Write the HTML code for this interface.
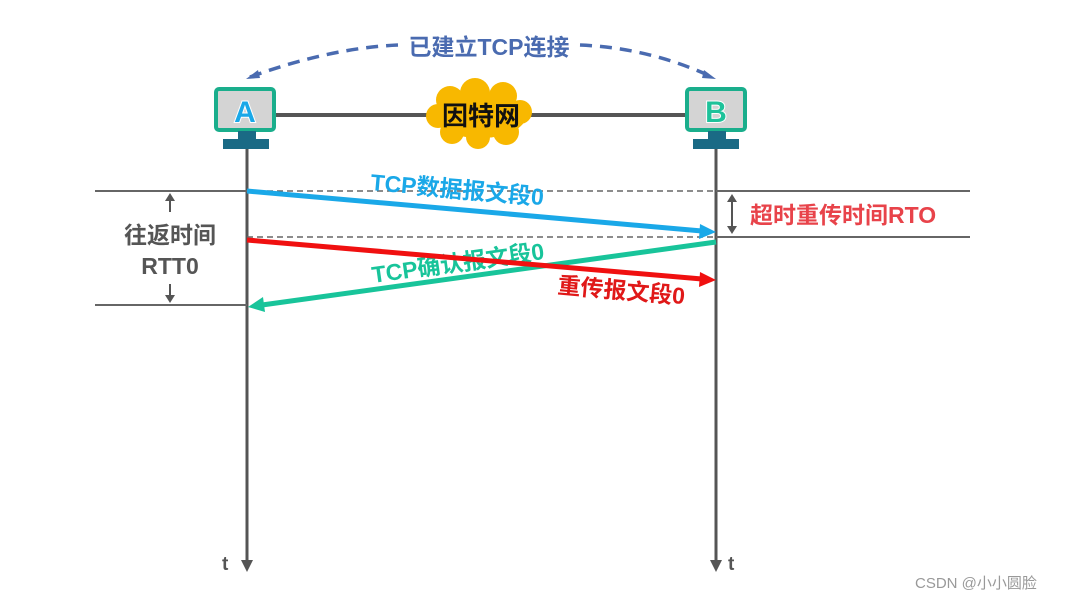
<!DOCTYPE html>
<html><head><meta charset="utf-8"><style>
html,body{margin:0;padding:0;background:#fff;}
svg{display:block;font-family:"Liberation Sans","Noto Sans CJK SC",sans-serif;}
</style></head><body>
<svg width="1066" height="601" viewBox="0 0 1066 601" xmlns="http://www.w3.org/2000/svg">
<!-- dashed arc -->
<path d="M250,77 Q330,48 398,45" fill="none" stroke="#4a6bb0" stroke-width="3.5" stroke-dasharray="12,8"/>
<path d="M580,45 Q650,48 712,77" fill="none" stroke="#4a6bb0" stroke-width="3.5" stroke-dasharray="12,8"/>
<path d="M246,79 l12,-9 l2,8 z" fill="#4a6bb0"/>
<path d="M716,79 l-12,-9 l-2,8 z" fill="#4a6bb0"/>
<text x="489" y="55" text-anchor="middle" font-size="23" font-weight="bold" fill="#4a6bb0">已建立TCP连接</text>
<!-- link line -->
<line x1="276" y1="115" x2="686" y2="115" stroke="#555" stroke-width="4"/>
<!-- cloud -->
<g fill="#f8b800">
<ellipse cx="480" cy="116" rx="46" ry="22"/>
<circle cx="450" cy="100" r="14"/><circle cx="475" cy="93" r="15"/><circle cx="503" cy="96" r="14"/>
<circle cx="520" cy="112" r="12"/><circle cx="506" cy="132" r="13"/><circle cx="478" cy="137" r="12"/>
<circle cx="452" cy="132" r="12"/><circle cx="438" cy="116" r="12"/>
</g>
<text x="481" y="125" text-anchor="middle" font-size="26" font-weight="bold" fill="#111">因特网</text>
<!-- A -->
<rect x="216" y="89" width="58" height="41" rx="3" fill="#d4d4d4" stroke="#1aae8c" stroke-width="4"/>
<text x="245" y="122" text-anchor="middle" font-size="30" font-weight="bold" fill="#1aa8e8" stroke="#fff" stroke-width="2" paint-order="stroke">A</text>
<rect x="238" y="131" width="18" height="9" fill="#1a6a85"/>
<rect x="223" y="139" width="46" height="10" fill="#1a6a85"/>
<!-- B -->
<rect x="687" y="89" width="58" height="41" rx="3" fill="#d4d4d4" stroke="#1aae8c" stroke-width="4"/>
<text x="716" y="122" text-anchor="middle" font-size="30" font-weight="bold" fill="#1ec29a" stroke="#fff" stroke-width="2" paint-order="stroke">B</text>
<rect x="708" y="131" width="18" height="9" fill="#1a6a85"/>
<rect x="693" y="139" width="46" height="10" fill="#1a6a85"/>
<!-- timelines -->
<line x1="247" y1="149" x2="247" y2="562" stroke="#555" stroke-width="3"/>
<path d="M241,560 L253,560 L247,572 Z" fill="#555"/>
<line x1="716" y1="149" x2="716" y2="562" stroke="#555" stroke-width="3"/>
<path d="M710,560 L722,560 L716,572 Z" fill="#555"/>
<text x="222" y="570" font-size="19" font-weight="bold" fill="#555">t</text>
<text x="728" y="570" font-size="19" font-weight="bold" fill="#555">t</text>
<!-- horizontal lines -->
<line x1="95" y1="191" x2="247" y2="191" stroke="#666" stroke-width="2"/>
<line x1="247" y1="191" x2="716" y2="191" stroke="#666" stroke-width="1.5" stroke-dasharray="6,4"/>
<line x1="716" y1="191" x2="970" y2="191" stroke="#666" stroke-width="2"/>
<line x1="247" y1="237" x2="716" y2="237" stroke="#666" stroke-width="1.5" stroke-dasharray="6,4"/>
<line x1="716" y1="237" x2="970" y2="237" stroke="#666" stroke-width="2"/>
<line x1="95" y1="305" x2="247" y2="305" stroke="#666" stroke-width="2"/>
<!-- RTT arrows -->
<line x1="170" y1="199" x2="170" y2="212" stroke="#555" stroke-width="2"/>
<path d="M165,201 L175,201 L170,193 Z" fill="#555"/>
<line x1="170" y1="284" x2="170" y2="297" stroke="#555" stroke-width="2"/>
<path d="M165,295 L175,295 L170,303 Z" fill="#555"/>
<text x="170" y="243" text-anchor="middle" font-size="23" font-weight="bold" fill="#555">往返时间</text>
<text x="170" y="274" text-anchor="middle" font-size="23" font-weight="bold" fill="#555">RTT0</text>
<!-- RTO -->
<line x1="732" y1="200" x2="732" y2="228" stroke="#555" stroke-width="2"/>
<path d="M727,202 L737,202 L732,194 Z" fill="#555"/>
<path d="M727,226 L737,226 L732,234 Z" fill="#555"/>
<text x="750" y="223" font-size="23" font-weight="bold" fill="#e8434a">超时重传时间RTO</text>
<!-- blue -->
<line x1="247" y1="191" x2="702" y2="231" stroke="#1aa8e8" stroke-width="5"/>
<path d="M716,232 L700,224 L699,239 Z" fill="#1aa8e8"/>
<text x="0" y="0" font-size="23" font-weight="bold" fill="#1aa8e8" transform="translate(370,190) rotate(5)">TCP数据报文段0</text>
<!-- green -->
<line x1="716" y1="242" x2="262" y2="305" stroke="#18c49a" stroke-width="5"/>
<path d="M248,307 L263,297 L265,312 Z" fill="#18c49a"/>
<text x="0" y="0" font-size="23" font-weight="bold" fill="#18c49a" transform="translate(373,283) rotate(-8)">TCP确认报文段0</text>
<!-- red -->
<line x1="247" y1="240" x2="702" y2="279" stroke="#f01010" stroke-width="5"/>
<path d="M716,280 L700,272 L699,287 Z" fill="#f01010"/>
<text x="0" y="0" font-size="23" font-weight="bold" fill="#e01818" transform="translate(557,293) rotate(5)">重传报文段0</text>
<!-- watermark -->
<text x="915" y="588" font-size="15" fill="#999">CSDN @小小圆脸</text>
</svg>
</body></html>
